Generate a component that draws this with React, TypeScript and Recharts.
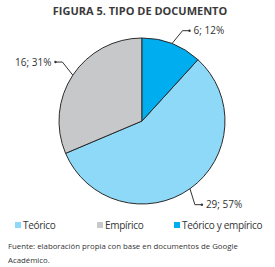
import { PieChart, Pie, Cell } from 'recharts'

const categories = ['Teórico', 'Empírico', 'Teórico y empírico']
const counts = [29, 16, 6]
const percents = [57, 31, 12]
const colors = ['#8ED8F8', '#C7C8CA', '#00AEEF']

const data = categories.map((name, i) => ({
  name,
  value: counts[i],
  pct: percents[i],
}))

const RADIAN = Math.PI / 180
const FONT = '"Open Sans", sans-serif'

function renderLabel(props: any) {
  const { cx, cy, midAngle, outerRadius, index } = props
  const cos = Math.cos(-midAngle * RADIAN)
  const sin = Math.sin(-midAngle * RADIAN)
  const sx = cx + outerRadius * cos
  const sy = cy + outerRadius * sin
  const ea = -(midAngle - 3) * RADIAN
  const ex = cx + (outerRadius + 16) * Math.cos(ea)
  const ey = cy + (outerRadius + 16) * Math.sin(ea)
  const dir = cos >= 0 ? 1 : -1
  const hx = ex + dir * 7
  const d = data[index]
  return (
    <g>
      <polyline
        points={`${sx},${sy} ${ex},${ey} ${hx},${ey}`}
        fill="none"
        stroke="#333"
        strokeWidth={1}
      />
      <circle cx={hx} cy={ey} r={1.2} fill="#333" />
      <text
        x={hx + dir * 4}
        y={ey}
        dy={3.5}
        textAnchor={dir > 0 ? 'start' : 'end'}
        fontSize={10}
        fontFamily={FONT}
        fill="#333"
      >
        {`${d.value}; ${d.pct}%`}
      </text>
    </g>
  )
}

export default function App() {
  const total = counts.reduce((a, b) => a + b, 0)
  const start = 90 - (counts[2] / total) * 360
  return (
    <div
      style={{
        position: 'absolute',
        left: 0,
        top: 0,
        width: 275,
        height: 267,
        background: '#fff',
        fontFamily: FONT,
        color: '#333',
      }}
    >
      <div
        style={{
          position: 'absolute',
          top: 3,
          left: 0,
          width: 280,
          textAlign: 'center',
          fontSize: 11,
          fontWeight: 700,
          color: '#3a3a3a',
        }}
      >
        FIGURA 5. TIPO DE DOCUMENTO
      </div>
      <div style={{ position: 'absolute', top: 0, left: 0 }}>
        <PieChart width={275} height={216}>
          <Pie
            data={data}
            dataKey="value"
            cx={137}
            cy={116}
            outerRadius={83}
            startAngle={start}
            endAngle={start - 360}
            stroke="#2b2b2b"
            strokeWidth={1}
            label={renderLabel}
            labelLine={false}
            isAnimationActive={false}
          >
            {data.map((entry, index) => (
              <Cell key={`cell-${index}`} fill={colors[index]} />
            ))}
          </Pie>
        </PieChart>
      </div>
      <div
        style={{
          position: 'absolute',
          top: 218,
          left: 15,
          display: 'flex',
          fontSize: 10,
          letterSpacing: -0.3,
          whiteSpace: 'nowrap',
          color: '#333',
        }}
      >
        {categories.map((name, i) => (
          <div
            key={name}
            style={{
              display: 'flex',
              alignItems: 'center',
              width: i === 0 ? 82 : i === 1 ? 77 : 'auto',
            }}
          >
            <span
              style={{
                display: 'inline-block',
                width: 6,
                height: 6,
                background: colors[i],
                marginRight: 2,
              }}
            />
            {name}
          </div>
        ))}
      </div>
      <div
        style={{
          position: 'absolute',
          top: 239,
          left: 8,
          width: 262,
          fontSize: 7.8,
          lineHeight: '14px',
          color: '#333',
        }}
      >
        Fuente: elaboración propia con base en documentos de Google Académico.
      </div>
    </div>
  )
}
